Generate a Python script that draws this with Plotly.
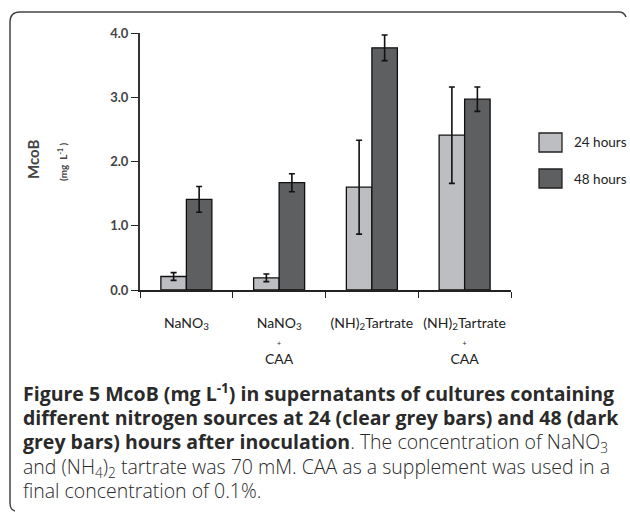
import plotly.graph_objects as go

categories = ["NaNO3", "NaNO3 + CAA", "(NH)2Tartrate", "(NH)2Tartrate + CAA"]
tick_labels = [
    "NaNO<sub>3</sub>",
    "NaNO<sub>3</sub><br><span style='font-size:7px'>+</span><br>CAA",
    "(NH)<sub>2</sub>Tartrate",
    "(NH)<sub>2</sub>Tartrate<br><span style='font-size:7px'>+</span><br>CAA",
]
series_names = ["24 hours", "48 hours"]
values_24h = [0.21, 0.19, 1.60, 2.41]
err_24h = [0.06, 0.06, 0.73, 0.75]
values_48h = [1.41, 1.67, 3.77, 2.97]
err_48h = [0.20, 0.14, 0.20, 0.19]
y_ticks = [0, 1, 2, 3, 4]

LIGHT = "#bdbec2"
DARK = "#5e5f61"

# plot area in pixels
L, R, T, B = 140, 511, 33, 290
W, H = R - L, B - T


def px(x):
    return (x - L) / W


def py(y):
    return (B - y) / H


fig = go.Figure()
for name, vals, errs, col in [
    (series_names[0], values_24h, err_24h, LIGHT),
    (series_names[1], values_48h, err_48h, DARK),
]:
    fig.add_trace(go.Bar(
        x=categories, y=vals, name=name,
        marker=dict(color=col, line=dict(color="#111111", width=1.3)),
        error_y=dict(type="data", array=errs, visible=True,
                     color="#111111", thickness=1.6, width=3),
        showlegend=False,
    ))

fig.update_layout(
    width=630, height=512,
    margin=dict(l=L, r=630 - R, t=T, b=512 - B),
    paper_bgcolor="white", plot_bgcolor="white",
    barmode="group", bargap=0.45, bargroupgap=0,
    font=dict(family="Lato", color="#333333"),
    xaxis=dict(
        type="category", tickmode="array", tickvals=categories, ticktext=tick_labels,
        tickson="boundaries", ticks="outside", ticklen=6, tickwidth=1.3, tickcolor="#222222",
        showline=True, linecolor="#222222", linewidth=1.5,
        tickfont=dict(family="Lato", size=14, color="#222222"),
        ticklabelstandoff=19, range=[-0.5, 3.5], showgrid=False, zeroline=False,
    ),
    yaxis=dict(
        range=[0, 4], tickmode="array", tickvals=y_ticks,
        ticktext=[f"<b>{v:.1f}</b>" for v in y_ticks],
        ticks="outside", ticklen=7, tickwidth=1.3, tickcolor="#222222",
        showline=True, linecolor="#333333", linewidth=2,
        tickfont=dict(family="Lato", size=13, color="#444444"),
        showgrid=False, zeroline=False,
    ),
)

annotations = [
    dict(text="<b>McoB</b>", x=px(33), y=py(160), textangle=-90,
         font=dict(size=15, color="#444444")),
    dict(text="<b>(mg  L<sup>-1</sup> )</b>", x=px(62), y=py(162), textangle=-90,
         font=dict(size=10, color="#444444")),
    dict(text=series_names[0], x=px(572), y=py(142), xanchor="left",
         font=dict(size=13.5, color="#222222")),
    dict(text=series_names[1], x=px(572), y=py(179), xanchor="left",
         font=dict(size=13.5, color="#222222")),
]

caption = [
    ("<b>Figure 5 McoB (mg L<sup>-1</sup>) in supernatants of cultures containing</b>", 392),
    ("<b>different nitrogen sources at 24 (clear grey bars) and 48 (dark</b>", 417),
    ("<b>grey bars) hours after inoculation</b>. The concentration of NaNO<sub>3</sub>", 442),
    ("and (NH<sub>4</sub>)<sub>2</sub> tartrate was 70 mM. CAA as a supplement was used in a", 467),
    ("final concentration of 0.1%.", 491),
]
for txt, yc in caption:
    annotations.append(dict(text=txt, x=px(21), y=py(yc), xanchor="left", yanchor="middle",
                            font=dict(family="Open Sans", size=19.5, color="#2a2a2a", weight=300)))

for a in annotations:
    a.setdefault("xref", "paper")
    a.setdefault("yref", "paper")
    a.setdefault("showarrow", False)
    a.setdefault("xanchor", "center")
    a.setdefault("yanchor", "middle")
fig.update_layout(annotations=annotations)

shapes = [
    dict(type="rect", x0=px(539), x1=px(562), y0=py(152), y1=py(133),
         fillcolor=LIGHT, line=dict(color="#222222", width=1.3)),
    dict(type="rect", x0=px(539), x1=px(562), y0=py(188), y1=py(169),
         fillcolor=DARK, line=dict(color="#222222", width=1.3)),
]
border = (f"M {px(626)},{py(17)} Q {px(624)},{py(12)} {px(619)},{py(12)} "
          f"L {px(20)},{py(12)} Q {px(10)},{py(12)} {px(10)},{py(22)} "
          f"L {px(10)},{py(503)} Q {px(10)},{py(510)} {px(15)},{py(511)}")
shapes.append(dict(type="path", path=border, xref="paper", yref="paper",
                   line=dict(color="#444444", width=1.5)))
for s in shapes:
    s.setdefault("xref", "paper")
    s.setdefault("yref", "paper")
fig.update_layout(shapes=shapes)

fig.write_html(
    "out.html",
    config={"displayModeBar": False},
    post_script="document.body.style.margin='0';document.body.style.overflow='hidden';",
)
